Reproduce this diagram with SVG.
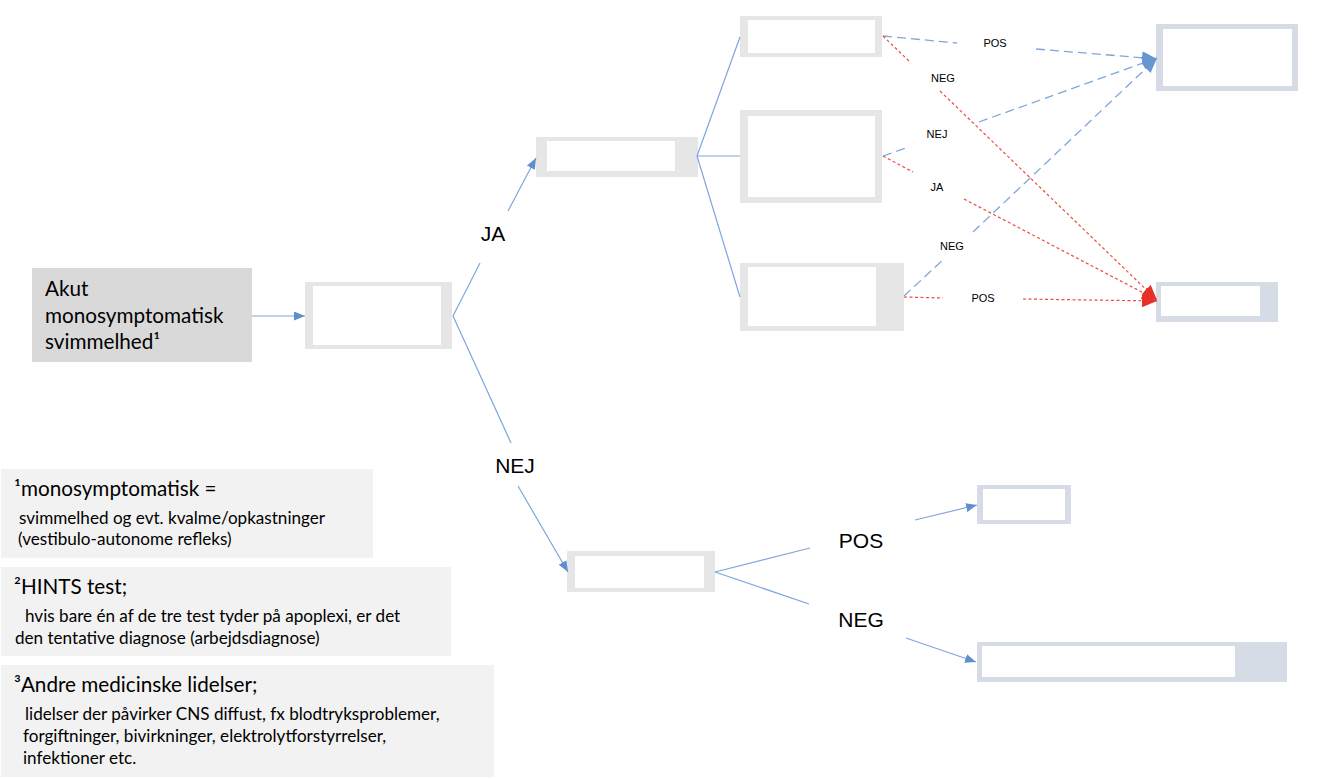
<svg xmlns="http://www.w3.org/2000/svg" width="1334" height="779" viewBox="0 0 1334 779">
<defs>
<style>
.gf{fill:#e6e6e6}
.bf{fill:#d6dce5}
.wf{fill:#ffffff}
.sol{fill:none;stroke:#7ea6dc;stroke-width:1.2}
.bd{fill:none;stroke:#7ea6dc;stroke-width:1.3;stroke-dasharray:9 5}
.rd{fill:none;stroke:#ee4b3e;stroke-width:1.2;stroke-dasharray:3 2.5}
.cal{font-family:Lato,"Open Sans",sans-serif;fill:#000}
.hd{font-size:20.7px}
.bt{font-size:17.1px}
.hl{font-family:"Liberation Sans",Arial,sans-serif;fill:#000;text-anchor:middle}
.big{font-size:21px}
.sm{font-size:11px}
</style>
<marker id="ab" markerUnits="userSpaceOnUse" markerWidth="11" markerHeight="9" refX="11" refY="4.5" orient="auto"><path d="M0,0 L11,4.5 L0,9 z" fill="#5f8fcf"/></marker>
<marker id="abl" markerUnits="userSpaceOnUse" markerWidth="15" markerHeight="13" refX="15" refY="6.5" orient="auto"><path d="M0,0 L15,6.5 L0,13 z" fill="#6896d2"/></marker>
<marker id="arl" markerUnits="userSpaceOnUse" markerWidth="15" markerHeight="13" refX="15" refY="6.5" orient="auto"><path d="M0,0 L15,6.5 L0,13 z" fill="#e8302a"/></marker>
</defs>
<rect width="1334" height="779" fill="#ffffff"/>

<g id="start">
<rect x="32" y="268" width="220" height="94" fill="#d9d9d9"/>
<text class="cal hd" x="45" y="296">Akut</text>
<text class="cal hd" x="45" y="323">monosymptomatisk</text>
<text class="cal hd" x="45" y="349">svimmelhed¹</text>
</g>

<g id="nodeA">
<rect class="gf" x="305" y="282" width="147" height="67"/>
<rect class="wf" x="313" y="286" width="128" height="59"/>
</g>
<g id="nodeB">
<rect class="gf" x="536" y="137" width="162" height="40"/>
<rect class="wf" x="547" y="141" width="128" height="30"/>
</g>
<g id="nodeC1">
<rect class="gf" x="740" y="16" width="142" height="41"/>
<rect class="wf" x="748" y="20" width="127" height="33"/>
</g>
<g id="nodeC2">
<rect class="gf" x="740" y="110" width="142" height="93"/>
<rect class="wf" x="748" y="116" width="127" height="81"/>
</g>
<g id="nodeC3">
<rect class="gf" x="740" y="263" width="164" height="68"/>
<rect class="wf" x="748" y="267" width="128" height="59"/>
</g>
<g id="nodeD1">
<rect class="bf" x="1156" y="24" width="142" height="67"/>
<rect class="wf" x="1163" y="29" width="129" height="57"/>
</g>
<g id="nodeD2">
<rect class="bf" x="1156" y="282" width="122" height="40"/>
<rect class="wf" x="1161" y="286" width="99" height="30"/>
</g>
<g id="nodeE">
<rect class="gf" x="567" y="551" width="148" height="41"/>
<rect class="wf" x="575" y="556" width="129" height="32"/>
</g>
<g id="nodeF">
<rect class="bf" x="977" y="485" width="94" height="39"/>
<rect class="wf" x="983" y="489" width="82" height="31"/>
</g>
<g id="nodeG">
<rect class="bf" x="977" y="642" width="310" height="40"/>
<rect class="wf" x="982" y="646" width="253" height="31"/>
</g>

<g id="note1">
<rect x="1" y="469" width="372" height="89" fill="#f2f2f2"/>
<text class="cal hd" x="14" y="496">¹monosymptomatisk =</text>
<text class="cal bt" x="19" y="524">svimmelhed og evt. kvalme/opkastninger</text>
<text class="cal bt" x="18" y="545">(vestibulo-autonome refleks)</text>
</g>
<g id="note2">
<rect x="1" y="567" width="450" height="89" fill="#f2f2f2"/>
<text class="cal hd" x="14" y="594">²HINTS test;</text>
<text class="cal bt" x="25" y="622">hvis bare én af de tre test tyder på apoplexi, er det</text>
<text class="cal bt" x="15" y="644">den tentative diagnose (arbejdsdiagnose)</text>
</g>
<g id="note3">
<rect x="1" y="665" width="493" height="112" fill="#f2f2f2"/>
<text class="cal hd" x="14" y="692">³Andre medicinske lidelser;</text>
<text class="cal bt" x="25" y="720">lidelser der påvirker CNS diffust, fx blodtryksproblemer,</text>
<text class="cal bt" x="23" y="742">forgiftninger, bivirkninger, elektrolytforstyrrelser,</text>
<text class="cal bt" x="23" y="764">infektioner etc.</text>
</g>

<g id="connectors">
<path class="sol" d="M252,316 L305,316" marker-end="url(#ab)"/>
<path class="sol" d="M453,316 L480,263 M508,211 L536,158" marker-end="url(#ab)"/>
<path class="sol" d="M453,316 L511,443 M518,486 L568,572" marker-end="url(#ab)"/>
<path class="sol" d="M697,156 L740,37"/>
<path class="sol" d="M697,156 L740,156"/>
<path class="sol" d="M697,156 L740,297"/>
<path class="sol" d="M715,572 L810,548 M915,520 L977,505" marker-end="url(#ab)"/>
<path class="sol" d="M715,572 L809,604 M906,638 L976,662" marker-end="url(#ab)"/>
<path class="bd" d="M883,36 L957,43 M1036,49 L1157,59" marker-end="url(#abl)"/>
<path class="bd" d="M883,156 L909,147 M979,122 L1157,58" marker-end="url(#abl)"/>
<path class="bd" d="M904,296 L945,258 M973,232 L1157,58" marker-end="url(#abl)"/>
<path class="rd" d="M883,36 L910,62 M940,91 L1157,300" marker-end="url(#arl)"/>
<path class="rd" d="M883,156 L913,172 M964,199 L1157,300" marker-end="url(#arl)"/>
<path class="rd" d="M904,297 L943,298 M1023,299 L1157,301" marker-end="url(#arl)"/>
</g>

<g id="labels">
<text class="hl big" x="493" y="241">JA</text>
<text class="hl big" x="515" y="473">NEJ</text>
<text class="hl big" x="861" y="548">POS</text>
<text class="hl big" x="861" y="627">NEG</text>
<text class="hl sm" x="995" y="47">POS</text>
<text class="hl sm" x="943" y="82">NEG</text>
<text class="hl sm" x="937" y="138">NEJ</text>
<text class="hl sm" x="937" y="191">JA</text>
<text class="hl sm" x="952" y="250">NEG</text>
<text class="hl sm" x="983" y="302">POS</text>
</g>
</svg>
